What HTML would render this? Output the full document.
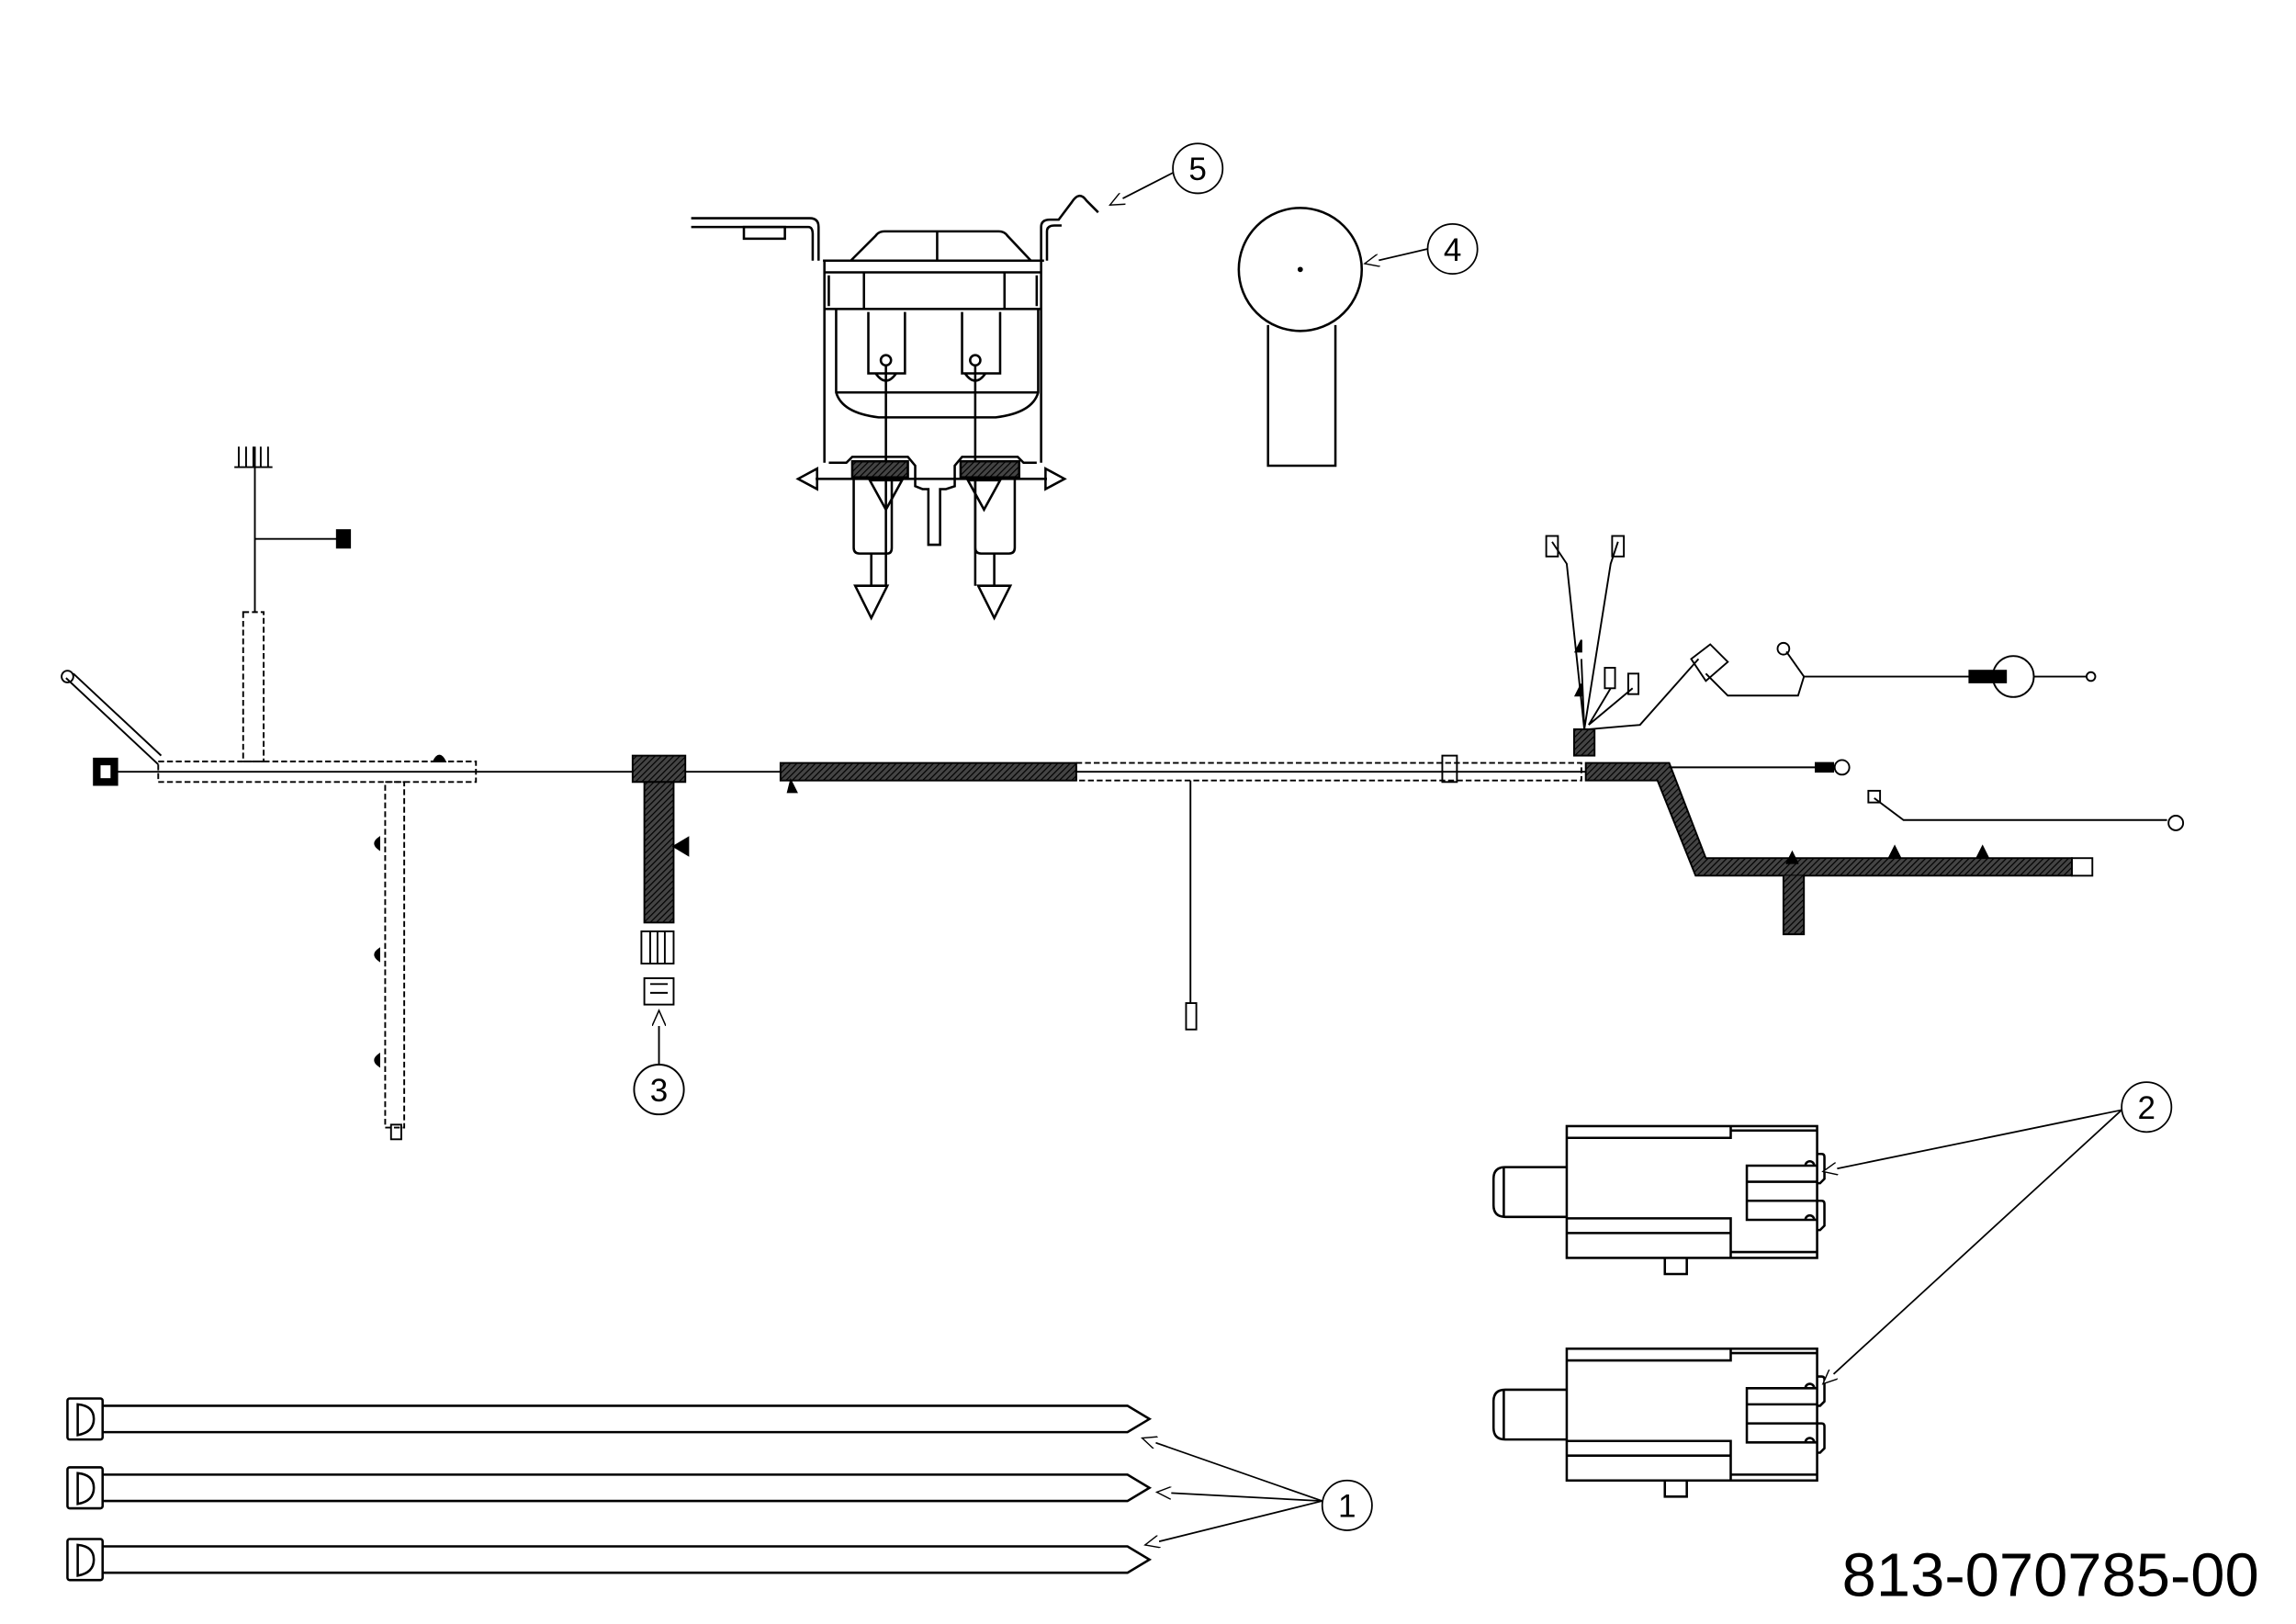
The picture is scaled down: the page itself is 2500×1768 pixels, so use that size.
<!DOCTYPE html>
<html><head><meta charset="utf-8"><style>
html,body{margin:0;padding:0;background:#fff;}
svg{display:block;}
text{font-family:"Liberation Sans",sans-serif;fill:#000;}
</style></head><body>
<svg width="2500" height="1768" viewBox="0 0 1568 1109" xmlns="http://www.w3.org/2000/svg">
<defs>
<pattern id="h" width="3" height="3" patternUnits="userSpaceOnUse" patternTransform="rotate(45)">
<rect width="3" height="3" fill="#444"/><line x1="0" y1="0" x2="0" y2="3" stroke="#000" stroke-width="1.5"/></pattern>
<marker id="a" markerWidth="10" markerHeight="8" refX="9" refY="4" orient="auto"><path d="M0,0 L9,4 L0,8" fill="#fff" stroke="#000" stroke-width="0.8"/></marker>
<g id="tie">
<rect x="46" y="-14" width="24" height="28" rx="1.5"/><path d="M53,-10 V11 Q64,9 64,0 Q64,-9 53,-10 Z"/>
<path d="M70,-9 H770 L785,0 L770,9 H70"/>
</g>
<g id="sw">
<path d="M1070,797 H1028 Q1020,797 1020,805 V823 Q1020,831 1028,831 H1070"/>
<line x1="1027" y1="797" x2="1027" y2="831"/>
<rect x="1070" y="769" width="171" height="90"/>
<path d="M1070,777 H1182 V769 M1182,772 H1241"/>
<path d="M1070,832 H1182 V859 M1070,842 H1182 M1182,855 H1241"/>
<path d="M1241,796 H1193 V833 H1241 M1193,807 H1241 M1193,820 H1241"/>
<path d="M1241,788 H1244 Q1246,788 1246,790 V805 L1243,808 H1241 M1241,820 H1244 Q1246,820 1246,822 V837 L1243,840 H1241"/>
<path d="M1233,796 a3,3 0 0 1 6,0 M1233,833 a3,3 0 0 1 6,0"/>
<path d="M1137,859 V870 H1152 V859"/>
</g>
</defs>
<g fill="none" stroke="#000" stroke-width="1.6">
<!-- cable ties -->
<use href="#tie" transform="translate(0,969)"/>
<use href="#tie" transform="translate(0,1016)"/>
<use href="#tie" transform="translate(0,1065)"/>
<g stroke-width="1.1">
<circle cx="920" cy="1028" r="17"/>
<line x1="903" y1="1025" x2="780" y2="982" marker-end="url(#a)"/>
<line x1="903" y1="1025" x2="790" y2="1019" marker-end="url(#a)"/>
<line x1="903" y1="1025" x2="782" y2="1055" marker-end="url(#a)"/>
</g>
<!-- switches -->
<use href="#sw"/>
<use href="#sw" transform="translate(0,152)"/>
<g stroke-width="1.1">
<circle cx="1466" cy="756" r="17"/>
<line x1="1449" y1="758" x2="1245" y2="800" marker-end="url(#a)"/>
<line x1="1449" y1="758" x2="1245" y2="945" marker-end="url(#a)"/>
</g>
<!-- item 4 -->
<circle cx="888" cy="184" r="42"/><circle cx="888" cy="184" r="1" fill="#000"/>
<path d="M866,222 V318 H912 V222"/>
<g stroke-width="1.1"><circle cx="992" cy="170" r="17"/>
<line x1="975" y1="170" x2="932" y2="180" marker-end="url(#a)"/></g>
<!-- item 5 switch -->
<path d="M472,149 H553 Q559,149 559,155 V178 M472,155 H552 Q555,155 555,160 V178"/>
<rect x="508" y="155" width="28" height="8"/>
<path d="M711,178 V155 Q711,150 717,150 H723 L732,138 Q737,130 742,137 L750,145"/>
<path d="M715,178 V158 Q715,154 720,154 H725"/>
<path d="M562,178 H713 M563,178 V316 M711,178 V316"/>
<path d="M581,178 L598,161 Q600,158 604,158 H682 Q686,158 688,161 L704,178 M640,158 V178"/>
<path d="M563,186 H711 M563,211 H711 M566,188 V209 M708,188 V209 M590,186 V211 M686,186 V211"/>
<path d="M571,211 V268 Q575,282 600,285 H680 Q705,282 709,268 V211 M571,268 H709"/>
<path d="M593,213 V255 H618 V213 M657,213 V255 H683 V213"/>
<circle cx="605" cy="246" r="3.5"/><circle cx="666" cy="246" r="3.5"/>
<path d="M598,255 q7,10 14,0 M659,255 q7,10 14,0"/>
<path d="M605,250 V400 M666,250 V400"/>
<path d="M566,316 H578 L582,312 H620 L625,318 V332 L630,334 H634 V372 H642 V334 H646 L652,332 V318 L657,312 H695 L699,316 H708"/>
<rect x="582" y="315" width="38" height="11" fill="url(#h)"/><rect x="656" y="315" width="40" height="11" fill="url(#h)"/>
<line x1="557" y1="327" x2="715" y2="327"/>
<path d="M545,327 L558,320 V334 Z M727,327 L714,320 V334 Z"/>
<path d="M583,326 V374 Q583,378 587,378 H606 Q609,378 609,374 V326 M666,326 V374 Q666,378 670,378 H689 Q693,378 693,374 V326"/>
<path d="M594,328 H616 L605,348 Z M661,328 H683 L672,348 Z"/>
<path d="M595,378 V400 M679,378 V400"/>
<path d="M584,400 H606 L595,422 Z M668,400 H690 L679,422 Z"/>
<g stroke-width="1.1"><circle cx="818" cy="115" r="17"/>
<line x1="801" y1="118" x2="758" y2="140" marker-end="url(#a)"/></g>
<!-- harness -->
<g stroke-width="1.2">
<line x1="80" y1="527" x2="1085" y2="527"/>
<line x1="45" y1="463" x2="108" y2="522"/><line x1="50" y1="460" x2="110" y2="516"/>
<circle cx="46" cy="462" r="4"/>
<path d="M64,518 H80 V536 H64 Z" fill="#000"/><rect x="68" y="522" width="8" height="10" fill="#fff"/>
<rect x="108" y="520" width="217" height="14" stroke-dasharray="4,2"/>
<rect x="166" y="418" width="14" height="102" stroke-dasharray="4,2"/>
<line x1="174" y1="305" x2="174" y2="418"/>
<path d="M163,305 v14 M168,305 v14 M173,305 v14 M178,305 v14 M183,305 v14 M160,319 H186"/>
<path d="M174,368 H230"/><rect x="230" y="362" width="9" height="12" fill="#000"/>
<rect x="263" y="534" width="13" height="236" stroke-dasharray="4,2"/>
<rect x="267" y="768" width="7" height="10"/>
<path d="M296,520 q4,-8 8,0 Z M259,580 q-6,-4 0,-8 Z M259,656 q-6,-4 0,-8 Z M259,728 q-6,-4 0,-8 Z" fill="#000"/>
<rect x="432" y="516" width="36" height="18" fill="url(#h)"/>
<rect x="440" y="534" width="20" height="96" fill="url(#h)"/>
<path d="M460,578 L470,572 V584 Z" fill="#000"/>
<rect x="438" y="636" width="22" height="22"/><path d="M444,636 v22 M449,636 v22 M454,636 v22"/>
<rect x="440" y="668" width="20" height="18"/><path d="M444,672 h12 M444,678 h12"/>
<circle cx="450" cy="744" r="17"/>
<line x1="450" y1="727" x2="450" y2="690" marker-end="url(#a)"/>
<rect x="533" y="521" width="202" height="12" fill="url(#h)"/>
<path d="M540,533 l4,8 l-6,0 Z" fill="#000"/>
<rect x="735" y="521" width="345" height="12" stroke-dasharray="4,2"/>
<rect x="985" y="516" width="10" height="18"/>
<line x1="813" y1="533" x2="813" y2="685"/><rect x="810" y="685" width="7" height="18"/>
<rect x="1075" y="498" width="14" height="18" fill="url(#h)"/>
<path d="M1083,521 H1140 L1165,586 H1415 V598 H1158 L1132,533 H1083 Z" fill="url(#h)"/>
<rect x="1415" y="586" width="14" height="12"/>
<path d="M1218,598 V638 H1232 V598" fill="url(#h)"/>
<path d="M1220,590 l4,-8 l4,8 M1290,586 l4,-8 l4,8 M1350,586 l4,-8 l4,8" fill="#000"/>
<path d="M1140,524 H1250"/><circle cx="1258" cy="524" r="5"/><rect x="1240" y="521" width="12" height="6" fill="#000"/>
<path d="M1280,545 L1300,560 H1480"/><circle cx="1486" cy="562" r="5"/><rect x="1276" y="540" width="8" height="8"/>
<path d="M1082,498 L1080,450 M1082,498 L1070,385 L1060,370 M1082,498 L1100,385 L1105,370"/>
<rect x="1056" y="366" width="8" height="14"/><rect x="1101" y="366" width="8" height="14"/>
<path d="M1080,445 l-4,0 l4,-8 Z M1080,475 l-4,0 l4,-8 Z" fill="#000"/>
<path d="M1085,495 L1100,470 M1085,495 L1115,470 M1085,498 L1120,495 L1160,450"/>
<rect x="1096" y="456" width="7" height="14"/><rect x="1112" y="460" width="7" height="14"/>
<path d="M1155,450 L1168,440 L1180,452 L1165,465 Z"/>
<path d="M1165,460 L1180,475 H1228 L1232,462 H1350"/>
<path d="M1232,462 L1220,445"/><circle cx="1218" cy="443" r="4"/>
<circle cx="1375" cy="462" r="14"/><rect x="1345" y="458" width="25" height="8" fill="#000"/>
<line x1="1389" y1="462" x2="1425" y2="462"/><circle cx="1428" cy="462" r="3"/>
</g>
</g>
<text x="1258" y="1090" font-size="42">813-070785-00</text>
<g font-size="22" text-anchor="middle">
<text x="920" y="1036">1</text><text x="1466" y="764">2</text><text x="450" y="752">3</text>
<text x="992" y="178">4</text><text x="818" y="123">5</text>
</g>
</svg>
</body></html>
